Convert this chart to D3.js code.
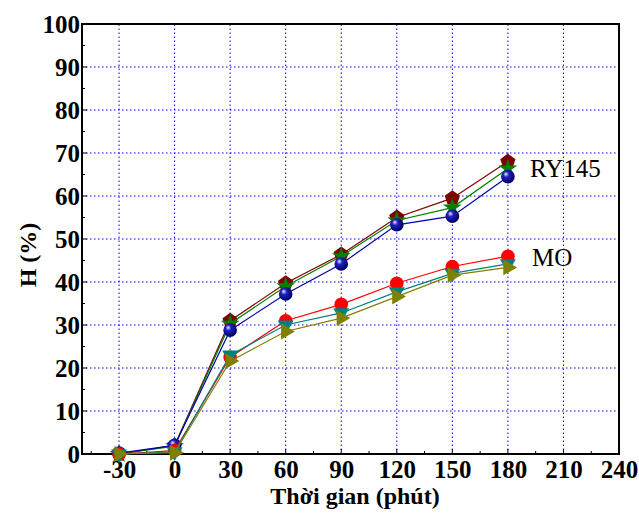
<!DOCTYPE html>
<html>
<head>
<meta charset="utf-8">
<script src="https://cdn.jsdelivr.net/npm/d3@7"></script>
<style>
  body { margin: 0; background: #fff; }
  text { font-family: "Liberation Serif", "Times New Roman", Times, serif; }
</style>
</head>
<body>
<div id="chart"></div>
<script>
"use strict";

const width = 639,
      height = 518;

// data
const times = [-30, 0, 30, 60, 90, 120, 150, 180];
const ryRed   = [0, 2, 31, 39.7, 46.4, 55, 59.5, 68];
const ryGreen = [0, 1.8, 30.3, 39, 46, 54.3, 57.3, 66.4];
const ryBlue  = [0.2, 2, 28.8, 37.2, 44.2, 53.3, 55.3, 64.5];
const moRed   = [0, 0.8, 22.5, 31, 34.8, 39.7, 43.6, 46];
const moTeal  = [0, 0.5, 23, 30, 32.8, 37.7, 42, 44.2];
const moOlive = [0, 0.3, 21.6, 28.5, 31.6, 36.6, 41.6, 43.4];
const xTicks = [-30, 0, 30, 60, 90, 120, 150, 180, 210, 240];
const yTicks = [0, 10, 20, 30, 40, 50, 60, 70, 80, 90, 100];

const series = [
  {name: "ryRed", values: ryRed, color: "#800000", shape: "pentagon"},
  {name: "ryGreen", values: ryGreen, color: "#008000", shape: "star"},
  {name: "ryBlue", values: ryBlue, color: "#0000b0", shape: "ball"},
  {name: "moRed", values: moRed, color: "#ff0000", shape: "circle"},
  {name: "moTeal", values: moTeal, color: "#008080", shape: "down"},
  {name: "moOlive", values: moOlive, color: "#808000", shape: "right"}
];

const plotL = 82, plotR = 619, plotT = 24, plotB = 454;

const x = d3.scaleLinear().domain([-50, 240]).range([plotL, plotR]);
const y = d3.scaleLinear().domain([0, 100]).range([plotB, plotT]);

const svg = d3.select("#chart")
  .append("svg")
  .attr("width", width)
  .attr("height", height);

const defs = svg.append("defs");
const grad = defs.append("radialGradient")
  .attr("id", "ball")
  .attr("cx", "0.4").attr("cy", "0.4").attr("r", "0.6")
  .attr("fx", "0.35").attr("fy", "0.3");
grad.append("stop").attr("offset", "0%").attr("stop-color", "#e8e8ff");
grad.append("stop").attr("offset", "35%").attr("stop-color", "#2020c0");
grad.append("stop").attr("offset", "100%").attr("stop-color", "#000060");

// grid
const grid = svg.append("g")
  .attr("stroke", "#0000ff")
  .attr("stroke-width", 1)
  .attr("stroke-dasharray", "1.5,2.5");

grid.selectAll(".vgrid")
  .data(xTicks.filter(d => d < 240))
  .join("line")
    .attr("class", "vgrid")
    .attr("x1", d => x(d)).attr("x2", d => x(d))
    .attr("y1", y(0)).attr("y2", y(100));

grid.selectAll(".hgrid")
  .data(yTicks.filter(d => d > 0 && d < 100))
  .join("line")
    .attr("class", "hgrid")
    .attr("x1", x(-50)).attr("x2", x(240))
    .attr("y1", d => y(d)).attr("y2", d => y(d));

// axes
const xAxis = d3.axisBottom(x)
  .tickValues(xTicks)
  .tickFormat(d => String(d))
  .tickSize(0)
  .tickPadding(6);

svg.append("g")
  .attr("transform", `translate(0,${plotB})`)
  .call(xAxis)
  .call(g => g.select(".domain").remove())
  .selectAll("text")
    .attr("fill", "#000")
    .attr("font-size", "25px")
    .attr("font-weight", "bold");

const yAxis = d3.axisLeft(y)
  .tickValues(yTicks)
  .tickFormat(d => String(d))
  .tickSize(0)
  .tickPadding(2);

svg.append("g")
  .attr("transform", `translate(${plotL},0)`)
  .call(yAxis)
  .call(g => g.select(".domain").remove())
  .selectAll("text")
    .attr("fill", "#000")
    .attr("font-size", "25px")
    .attr("font-weight", "bold");

// inward minor ticks
const xMinor = d3.range(-45, 240, 15);
svg.append("g")
  .selectAll("line")
  .data(xMinor)
  .join("line")
    .attr("x1", d => x(d)).attr("x2", d => x(d))
    .attr("y1", plotB).attr("y2", d => plotB - ((d + 30) % 30 === 0 ? 5 : 3))
    .attr("stroke", "#000")
    .attr("stroke-width", 1);

const yMinor = d3.range(5, 100, 5);
svg.append("g")
  .selectAll("line")
  .data(yMinor)
  .join("line")
    .attr("x1", plotL).attr("x2", d => plotL + (d % 10 === 0 ? 5 : 3))
    .attr("y1", d => y(d)).attr("y2", d => y(d))
    .attr("stroke", "#000")
    .attr("stroke-width", 1);

// frame
svg.append("rect")
  .attr("x", plotL).attr("y", plotT)
  .attr("width", plotR - plotL).attr("height", plotB - plotT)
  .attr("fill", "none")
  .attr("stroke", "#000")
  .attr("stroke-width", 2);

// lines and markers
const line = d3.line()
  .x((d, i) => x(times[i]))
  .y(d => y(d));

const star = d3.symbol().type(d3.symbolStar).size(110);
const tri = d3.symbol().type(d3.symbolTriangle).size(110);

function pentagon(r) {
  const pts = d3.range(5).map(k => {
    const a = -Math.PI / 2 + k * 2 * Math.PI / 5;
    return [r * Math.cos(a), r * Math.sin(a)];
  });
  return "M" + pts.map(p => p.join(",")).join("L") + "Z";
}

series.forEach(s => {
  const g = svg.append("g").attr("class", s.name);
  g.append("path")
    .attr("d", line(s.values))
    .attr("fill", "none")
    .attr("stroke", s.color)
    .attr("stroke-width", 1.2);

  const pts = g.selectAll(".pt")
    .data(s.values)
    .join("g")
      .attr("class", "pt")
      .attr("transform", (d, i) => `translate(${x(times[i])},${y(d)})`);

  if (s.shape === "pentagon") {
    pts.append("path").attr("d", pentagon(8)).attr("fill", s.color);
  } else if (s.shape === "star") {
    pts.append("path").attr("d", star()).attr("fill", s.color);
  } else if (s.shape === "ball") {
    pts.append("circle").attr("r", 6.8).attr("fill", "url(#ball)");
  } else if (s.shape === "circle") {
    pts.append("circle").attr("r", 6.8).attr("fill", s.color);
  } else if (s.shape === "down") {
    pts.append("path").attr("d", tri()).attr("transform", "rotate(180)").attr("fill", s.color);
  } else if (s.shape === "right") {
    pts.append("path").attr("d", tri()).attr("transform", "rotate(90)").attr("fill", s.color);
  }
});

// series labels
svg.append("text")
  .attr("x", 530).attr("y", 177)
  .attr("font-size", "25px")
  .text("RY145");

svg.append("text")
  .attr("x", 532).attr("y", 266)
  .attr("font-size", "25px")
  .text("MO");

// axis titles
svg.append("text")
  .attr("x", 355)
  .attr("y", 504)
  .attr("text-anchor", "middle")
  .attr("font-size", "24px")
  .attr("font-weight", "bold")
  .text("Thời gian (phút)");

svg.append("text")
  .attr("transform", "translate(36,255) rotate(-90)")
  .attr("text-anchor", "middle")
  .attr("font-size", "24px")
  .attr("font-weight", "bold")
  .text("H (%)");
</script>
</body>
</html>
